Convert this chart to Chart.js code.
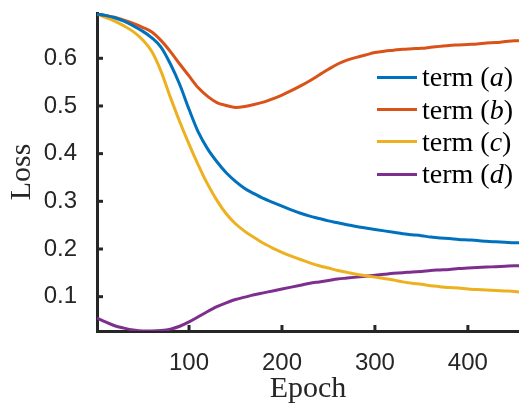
<!DOCTYPE html>
<html>
<head>
<meta charset="utf-8">
<script src="https://cdn.jsdelivr.net/npm/chart.js@4"></script>
<style>
  html, body { margin: 0; padding: 0; background: #fff; }
  #wrap { position: relative; width: 519px; height: 404px; overflow: hidden; }
  #leyenda { position: absolute; left: 377px; top: 61px; font-family: "Liberation Serif", serif; font-size: 28px; color: #000; }
  #leyenda .fila { height: 32.4px; display: flex; align-items: center; white-space: nowrap; }
  #leyenda .linea { width: 40px; height: 3px; margin-right: 5px; }
</style>
</head>
<body>
<div id="wrap">
  <canvas id="grafico" width="519" height="404"></canvas>
  <div id="leyenda"></div>
</div>
<script>
// datos
const epochs = [1, 10, 20, 30, 40, 50, 60, 70, 80, 90, 100, 110, 120, 130, 140, 150, 160, 170, 180, 190, 200,
  210, 220, 230, 240, 250, 260, 270, 280, 290, 300, 310, 320, 330, 340, 350, 360, 370, 380, 390, 400,
  410, 420, 430, 440, 450, 455];

const termA = [0.693, 0.690, 0.685, 0.678, 0.668, 0.657, 0.643, 0.623, 0.588, 0.545, 0.493, 0.445, 0.410, 0.383, 0.360, 0.342, 0.327, 0.316, 0.306, 0.298, 0.290,
  0.282, 0.275, 0.269, 0.264, 0.259, 0.255, 0.251, 0.247, 0.244, 0.241, 0.238, 0.235, 0.232, 0.230, 0.228, 0.225, 0.223, 0.222, 0.220, 0.219,
  0.218, 0.216, 0.215, 0.214, 0.213, 0.213];

const termB = [0.693, 0.690, 0.686, 0.680, 0.673, 0.665, 0.655, 0.637, 0.614, 0.588, 0.563, 0.538, 0.520, 0.507, 0.501, 0.497, 0.499, 0.503, 0.508, 0.515, 0.523,
  0.532, 0.542, 0.553, 0.565, 0.577, 0.588, 0.596, 0.602, 0.607, 0.612, 0.615, 0.617, 0.619, 0.620, 0.621, 0.623, 0.625, 0.627, 0.628, 0.629,
  0.630, 0.632, 0.633, 0.635, 0.637, 0.637];

const termC = [0.693, 0.686, 0.678, 0.668, 0.656, 0.639, 0.614, 0.572, 0.518, 0.467, 0.420, 0.376, 0.336, 0.302, 0.274, 0.253, 0.237, 0.224, 0.212, 0.202, 0.193,
  0.185, 0.178, 0.171, 0.165, 0.160, 0.155, 0.151, 0.147, 0.144, 0.141, 0.138, 0.135, 0.131, 0.128, 0.126, 0.123, 0.121, 0.119, 0.118, 0.116,
  0.115, 0.114, 0.113, 0.112, 0.111, 0.110];

const termD = [0.055, 0.047, 0.039, 0.034, 0.030, 0.028, 0.028, 0.029, 0.032, 0.038, 0.047, 0.058, 0.069, 0.079, 0.087, 0.094, 0.099, 0.104, 0.108, 0.112, 0.116,
  0.120, 0.124, 0.128, 0.131, 0.134, 0.137, 0.139, 0.141, 0.143, 0.145, 0.147, 0.149, 0.150, 0.152, 0.153, 0.155, 0.156, 0.157, 0.159, 0.160,
  0.161, 0.162, 0.163, 0.164, 0.165, 0.165];

const letras = ["a", "b", "c", "d"];
const colores = ["#0072BD", "#D95319", "#EDB120", "#7E2F8E"];
const series = [termA, termB, termC, termD];

const ejeColor = "#262626";

// marcas de eje hacia dentro, estilo matlab
const marcasDentro = {
  id: "marcasDentro",
  afterDraw(chart) {
    const { ctx, chartArea, scales } = chart;
    ctx.save();
    ctx.strokeStyle = ejeColor;
    ctx.lineWidth = 3;
    scales.x.ticks.forEach(t => {
      const px = scales.x.getPixelForValue(t.value);
      ctx.beginPath();
      ctx.moveTo(px, chartArea.bottom);
      ctx.lineTo(px, chartArea.bottom - 6);
      ctx.stroke();
    });
    scales.y.ticks.forEach(t => {
      const py = scales.y.getPixelForValue(t.value);
      ctx.beginPath();
      ctx.moveTo(chartArea.left, py);
      ctx.lineTo(chartArea.left + 6, py);
      ctx.stroke();
    });
    ctx.restore();
  }
};

// leyenda en html para poder poner la letra en cursiva
const leyendaHtml = {
  id: "leyendaHtml",
  afterUpdate(chart) {
    const cont = document.getElementById("leyenda");
    cont.innerHTML = chart.data.datasets.map((d, i) => `
      <div class="fila"><span class="linea" style="background:${d.borderColor}"></span>term&nbsp;(<i>${letras[i]}</i>)</div>
    `).join("");
  }
};

const ctx = document.getElementById("grafico");
new Chart(ctx, {
  type: "line",
  data: {
    labels: epochs,
    datasets: series.map((s, i) => ({
      label: `term (${letras[i]})`,
      data: s.map((v, k) => ({ x: epochs[k], y: v })),
      borderColor: colores[i],
      borderWidth: 3,
      pointRadius: 0,
      cubicInterpolationMode: "monotone",
      fill: false
    }))
  },
  options: {
    responsive: false,
    animation: false,
    layout: { padding: { top: 13, right: 0, left: 0, bottom: 0 } },
    plugins: {
      legend: { display: false },
      tooltip: { enabled: false }
    },
    scales: {
      x: {
        type: "linear",
        min: 1,
        max: 455,
        grid: { display: false },
        border: { display: true, width: 3, color: ejeColor },
        ticks: {
          stepSize: 100,
          includeBounds: false,
          color: ejeColor,
          padding: 10,
          font: { family: "Liberation Sans", size: 24 }
        },
        title: {
          display: true,
          text: "Epoch",
          color: ejeColor,
          padding: { top: 0, bottom: -3 },
          font: { family: "Liberation Serif", size: 30 }
        },
        afterFit(scale) {
          scale.height = 73;
          scale.paddingLeft = 0;
          scale.paddingRight = 0;
        }
      },
      y: {
        min: 0.028,
        max: 0.695,
        grid: { display: false },
        border: { display: true, width: 3, color: ejeColor },
        ticks: {
          stepSize: 0.1,
          includeBounds: false,
          color: ejeColor,
          padding: 12,
          font: { family: "Liberation Sans", size: 24 },
          callback: v => v.toFixed(1)
        },
        title: {
          display: true,
          text: "Loss",
          color: ejeColor,
          padding: { top: 4, bottom: 0 },
          font: { family: "Liberation Serif", size: 30 }
        },
        afterFit(scale) {
          scale.width = 97;
          scale.paddingTop = 0;
          scale.paddingBottom = 0;
        }
      }
    }
  },
  plugins: [marcasDentro, leyendaHtml]
});
</script>
</body>
</html>
